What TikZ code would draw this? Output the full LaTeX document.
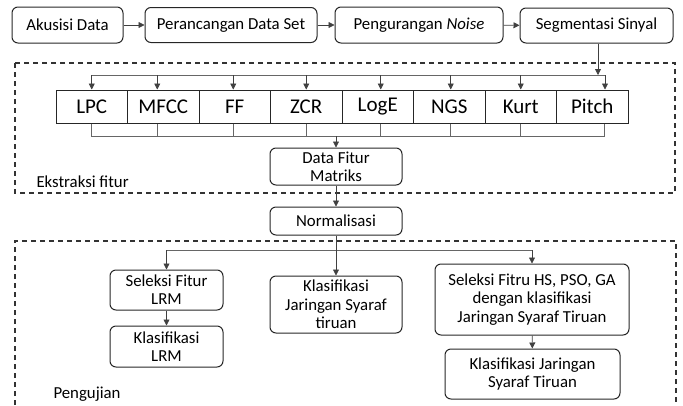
\documentclass[tikz,border=0pt]{standalone}
\usepackage{fontspec}
\setmainfont{Carlito}
\usetikzlibrary{arrows.meta}
\begin{document}
\begin{tikzpicture}[x=1pt,y=-1pt,
  box/.style={draw=black!85,line width=1pt,rounded corners=6pt,align=center,inner sep=1pt,
    font=\fontsize{16.8}{18.3}\selectfont},
  feat/.style={draw=black!85,line width=1pt,minimum width=71.5pt,minimum height=33pt,inner sep=0pt,
    font=\fontsize{21}{22}\selectfont},
  frame/.style={draw=black!80,line width=1.1pt,dash pattern=on 5pt off 4pt},
  conn/.style={draw=black!60,line width=0.8pt},
  arr/.style={draw=black!75,line width=0.8pt,-{Triangle[length=6pt,width=6pt]}},
  lbl/.style={anchor=west,font=\fontsize{16.8}{18}\selectfont}
]
\useasboundingbox (0,0) rectangle (683,405);
% top row
\node[box,minimum width=111pt,minimum height=36pt] (aku) at (67.5,25) {Akusisi Data};
\node[box,minimum width=172pt,minimum height=35pt] (per) at (231,25) {Perancangan Data Set};
\node[box,minimum width=168pt,minimum height=36pt] (pen) at (419,25) {Pengurangan \textit{Noise}};
\node[box,minimum width=153pt,minimum height=35pt] (seg) at (596.5,25.5) {Segmentasi Sinyal};
\draw[arr] (aku) -- (per);
\draw[arr] (per) -- (pen);
\draw[arr] (pen) -- (seg);
% frames
\draw[frame] (15,63) rectangle (675,193);
\draw[frame] (15,405) -- (15,241) -- (676,241) -- (676,405);
\node[lbl] (ekstr) at (33,182) {Ekstraksi fitur};
\node[lbl] (uji) at (50,394) {Pengujian};
% features
\node[feat] (f1) at (91.75,106.5) {LPC};
\node[feat] (f2) at (163.25,106.5) {MFCC};
\node[feat] (f3) at (234.75,106.5) {FF};
\node[feat] (f4) at (306.25,106.5) {ZCR};
\node[feat] (f5) at (377.75,106.5) {LogE};
\node[feat] (f6) at (449.25,106.5) {NGS};
\node[feat] (f7) at (520.75,106.5) {Kurt};
\node[feat] (f8) at (592.25,106.5) {Pitch};
\coordinate (dtop) at (0,75);
\coordinate (dbot) at (0,136);
% distribution
\draw[conn] (f1.north |- dtop) -- ([xshift=12.75pt]f8.north |- dtop);
\draw[arr] ([xshift=1.5pt]seg.south) -- ([xshift=1.5pt]seg.south |- dtop);
\draw[arr] (f1.north |- dtop) -- (f1.north);
\draw[arr] ([xshift=-6pt]f2.north |- dtop) -- ([xshift=-6pt]f2.north);
\draw[arr] ([xshift=-1.5pt]f3.north |- dtop) -- ([xshift=-1.5pt]f3.north);
\draw[arr] (f4.north |- dtop) -- (f4.north);
\draw[arr] ([xshift=3pt]f5.north |- dtop) -- ([xshift=3pt]f5.north);
\draw[arr] ([xshift=1.5pt]f6.north |- dtop) -- ([xshift=1.5pt]f6.north);
\draw[arr] (f7.north |- dtop) -- (f7.north);
\draw[arr] ([xshift=12.75pt]f8.north |- dtop) -- ([xshift=12.75pt]f8.north);
% collector
\draw[conn] (f1.south) -- (f1.south |- dbot) -- ([xshift=12pt]f8.south |- dbot) -- ([xshift=12pt]f8.south);
\draw[conn] ([xshift=-6pt]f2.south) -- ([xshift=-6pt]f2.south |- dbot);
\draw[conn] ([xshift=-1.5pt]f3.south) -- ([xshift=-1.5pt]f3.south |- dbot);
\draw[conn] (f4.south) -- (f4.south |- dbot);
\draw[conn] ([xshift=3pt]f5.south) -- ([xshift=3pt]f5.south |- dbot);
\draw[conn] ([xshift=1.5pt]f6.south) -- ([xshift=1.5pt]f6.south |- dbot);
\draw[conn] (f7.south) -- (f7.south |- dbot);
% data fitur
\node[box,minimum width=132pt,minimum height=37pt] (dfm) at (336,166.5) {Data Fitur\\Matriks};
\draw[arr] (dfm.north |- dbot) -- (dfm.north);
\node[box,minimum width=132pt,minimum height=28pt] (nor) at (336,221) {Normalisasi};
\draw[arr] (dfm) -- (nor);
% pengujian
\node[box,minimum width=113pt,minimum height=40pt] (slrm) at (166.5,290) {Seleksi Fitur\\LRM};
\node[box,minimum width=113pt,minimum height=41pt] (klrm) at (166.5,346.5) {Klasifikasi\\LRM};
\node[box,minimum width=132pt,minimum height=57pt] (kjst) at (336,304.5) {Klasifikasi\\Jaringan Syaraf\\tiruan};
\node[box,minimum width=194pt,minimum height=71pt] (shs) at (532,299.5) {Seleksi Fitru HS, PSO, GA\\dengan klasifikasi\\Jaringan Syaraf Tiruan};
\node[box,minimum width=175pt,minimum height=50pt] (kjst2) at (532.5,374) {Klasifikasi Jaringan\\Syaraf Tiruan};
\coordinate (ptop) at (0,250);
\draw[conn] (slrm.north |- ptop) -- (shs.north |- ptop);
\draw[arr] (nor) -- (kjst);
\draw[arr] (slrm.north |- ptop) -- (slrm.north);
\draw[arr] (shs.north |- ptop) -- (shs.north);
\draw[arr] (slrm) -- (klrm);
\draw[arr] (shs) -- (kjst2);
\end{tikzpicture}
\end{document}
